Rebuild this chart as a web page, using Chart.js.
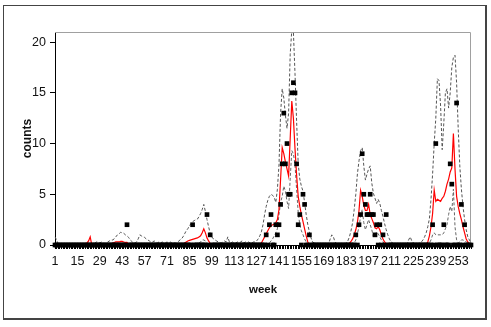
<!DOCTYPE html>
<html><head><meta charset="utf-8">
<script src="https://cdn.jsdelivr.net/npm/chart.js@4/dist/chart.umd.min.js"></script>
<style>
html,body{margin:0;padding:0;background:#fff;}
#wrap{position:relative;width:491px;height:327px;}
#frame{position:absolute;left:3px;top:5px;width:481px;height:312px;border:1.5px solid #444;border-right-width:2px;border-bottom-width:2px;pointer-events:none;}
canvas{position:absolute;left:0;top:0;}
</style></head>
<body><div id="wrap"><canvas id="c" width="491" height="327"></canvas><div id="frame"></div></div>
<script>
const weeks = Array.from({length: 261}, (_, i) => String(i + 1));
const tickLabels = ['1','15','29','43','57','71','85','99','113','127','141','155','169','183','197','211','225','239','253'];
const yTicks = [0, 5, 10, 15, 20];

const observed = [
0,0,0,0,0,0,0,0,0,0,
0,0,0,0,0,0,0,0,0,0,
0,0,0,0,0,0,0,0,0,0,
0,0,0,0,0,0,0,0,0,0,
0,0,0,0,0,2,0,0,0,0,
0,0,0,0,0,0,0,0,0,0,
0,0,0,0,0,0,0,0,0,0,
0,0,0,0,0,0,0,0,0,0,
0,0,0,0,0,0,2,0,0,0,
0,0,0,0,0,3,0,1,0,0,
0,0,0,0,0,0,0,0,0,0,
0,0,0,0,0,0,0,0,0,0,
0,0,0,0,0,0,0,0,0,0,
0,0,1,0,2,3,0,0,2,1,
2,4,8,13,8,10,5,5,15,16,
15,8,2,3,0,5,4,0,0,1,
0,0,0,0,0,0,0,0,0,0,
0,0,0,0,0,0,0,0,0,0,
0,0,0,0,0,0,0,0,1,0,
2,3,9,5,4,3,3,5,3,3,
1,2,0,2,0,1,0,3,0,0,
0,0,0,0,0,0,0,0,0,0,
0,0,0,0,0,0,0,0,0,0,
0,0,0,0,0,0,2,0,10,0,
0,0,0,2,0,0,0,8,6,0,
0,14,0,0,4,0,2,0,0,0,
0];

const meanCounts = [
0,0,0,0,0,0,0,0,0,0,
0,0,0,0,0,0,0.1,0.1,0.1,0.15,
0.2,0.4,0.8,0,0,0,0,0,0,0,
0,0,0,0,0,0.1,0.2,0.25,0.3,0.3,
0.3,0.35,0.35,0.3,0.25,0.25,0.1,0,0,0,
0,0,0,0,0,0,0,0,0,0,
0,0,0,0,0,0,0,0,0,0,
0,0,0,0,0,0,0,0,0,0,
0.1,0.2,0.3,0.4,0.45,0.5,0.55,0.6,0.65,0.7,
0.8,0.9,1.2,1.6,1.2,0.7,0.4,0.15,0.05,0,
0,0,0,0,0,0,0,0,0,0,
0,0,0,0,0,0,0,0,0,0,
0,0,0,0,0,0,0,0,0.05,0.2,
0.5,0.8,1.1,1.4,1.7,1.9,2.0,2.05,2.2,2.5,
3.5,6.5,9.6,9.0,8.2,7.5,6.8,10.5,14.2,12.5,
9.5,6.9,4.8,3.8,3.0,2.3,1.6,0.9,0.3,0.05,
0,0,0,0,0,0,0,0,0,0,
0,0,0,0,0,0,0,0,0,0,
0,0,0,0.05,0.15,0.35,0.6,1.0,1.5,2.2,
3.4,5.4,4.8,3.9,3.4,3.4,4.0,3.0,2.6,2.2,
1.7,1.6,1.8,1.5,1.0,0.6,0.3,0.1,0.05,0,
0,0,0,0,0,0,0,0,0,0,
0,0,0,0,0,0,0,0,0,0,
0,0,0.05,0.3,0.9,1.8,3.1,5.4,4.3,4.5,
4.4,4.3,4.6,4.8,5.3,6.0,6.5,7.2,7.6,11.0,
7.5,4.8,3.8,3.1,2.5,1.8,1.2,0.6,0.3,0.1,
0];

const upperBound = [
0.8,0.5,0.1,0,0,0,0,0,0,0,
0,0,0,0,0,0,0,0,0,0,
0,0,0,0,0.1,0.2,0.3,0.3,0.2,0.3,
0.2,0.1,0.2,0.3,0.4,0.5,0.5,0.6,0.8,1.0,
1.1,1.25,1.2,1.15,1.0,0.9,0.75,0.5,0.35,0.2,
0.2,0.3,0.6,1.0,0.9,0.8,0.75,0.6,0.5,0.4,
0.3,0.3,0.4,0.3,0.2,0.3,0.2,0.3,0.2,0.2,
0.3,0.2,0.3,0.2,0.2,0.2,0.15,0.3,0.5,0.6,
0.8,1.1,1.4,1.6,1.9,2.1,2.3,2.4,2.5,2.55,
2.8,3.1,3.5,4.0,3.3,2.5,1.8,1.15,0.8,0.6,
0.5,0.4,0.3,0.2,0.2,0.3,0.4,0.3,0.8,0.3,
0.2,0.3,0.2,0.2,0.3,0.2,0.3,0.4,0.2,0.3,
0.2,0.3,0.2,0.2,0.3,0.3,0.4,0.6,0.9,1.3,
2.0,3.0,3.8,4.4,4.8,5.0,4.9,4.7,4.2,5.5,
7.9,13.0,15.4,14.5,12.8,11.5,13.0,18.8,21.2,21.0,
16.9,12.2,8.0,6.5,5.8,5.3,4.2,3.0,2.0,1.3,
0.7,0.3,0.2,0.1,0.1,0.1,0.1,0.1,0.1,0.1,
0.1,0.1,0.6,1.0,0.8,0.3,0.1,0.1,0.1,0.1,
0.1,0.1,0.2,0.4,0.8,1.4,2.2,3.5,5.0,7.0,
8.3,9.3,9.6,7.8,6.4,7.0,7.5,7.8,6.1,5.1,
4.6,4.1,4.5,4.1,3.4,2.8,2.1,1.5,1.0,0.6,
0.3,0.2,0.1,0.1,0.1,0.1,0.1,0.1,0.1,0.1,
0.1,0.5,0.8,0.4,0.2,0.1,0.1,0.1,0.2,0.3,
0.5,0.8,1.2,1.8,2.6,4.5,7.0,10.0,12.5,16.4,
16.2,13.7,9.4,12.0,15.0,15.4,13.5,15.0,17.5,18.5,
18.7,16.0,11.5,7.8,5.5,3.8,2.5,1.5,0.8,0.5,
0.2];

const lowerBound = [
0,0,0,0,0,0,0,0,0,0,
0,0,0,0,0,0,0,0,0,0,
0,0,0,0,0,0,0,0,0,0,
0,0,0,0,0,0,0,0,0,0,
0,0,0,0,0,0,0,0,0,0,
0,0,0,0,0,0,0,0,0,0,
0,0,0,0,0,0,0,0,0,0,
0,0,0,0,0,0,0,0,0,0,
0,0,0,0,0,0,0,0,0,0,
0.2,0.3,0.5,0.5,0.4,0.2,0,0,0,0,
0,0,0,0,0,0,0,0,0,0,
0,0,0,0,0,0,0,0,0,0,
0,0,0,0,0,0,0,0,0,0,
0,0,0,0,0.2,0.4,0.6,0.9,1.2,1.6,
3.0,4.2,4.8,5.8,5.3,4.3,3.6,6.5,9.3,9.0,
7.9,5.5,3.2,2.0,1.4,1.0,0.6,0.3,0.1,0,
0,0,0,0,0,0,0,0,0,0,
0,0,0,0,0,0,0,0,0,0,
0,0,0,0,0,0,0,0.2,0.5,1.1,
1.8,2.8,3.5,2.2,1.5,2.0,2.5,2.0,1.5,0.8,
1.0,1.3,1.1,0.8,0.5,0.3,0.15,0,0,0,
0,0,0,0,0,0,0,0,0,0,
0,0,0,0,0,0,0,0,0,0,
0,0,0,0,0.2,0.5,1.0,1.2,1.0,1.0,
1.0,1.0,1.0,1.2,1.6,2.0,3.0,3.8,3.3,5.5,
1.8,0.5,0.2,0.3,0.5,0.5,0.4,0.3,0.2,0.1,
0];

const plotFrame = {
  id: 'plotFrame',
  beforeDatasetsDraw(chart) {
    const {ctx, chartArea: a} = chart;
    ctx.save();
    ctx.strokeStyle = '#a0a0a0';
    ctx.lineWidth = 1;
    ctx.beginPath();
    ctx.moveTo(a.left, a.top + 0.5);
    ctx.lineTo(a.right - 0.5, a.top + 0.5);
    ctx.lineTo(a.right - 0.5, a.bottom);
    ctx.stroke();
    ctx.restore();
  }
};

const tickFont = {family: 'Liberation Sans, Arial, sans-serif', size: 12.5};

new Chart(document.getElementById('c'), {
  type: 'line',
  data: {
    labels: weeks,
    datasets: [
      {label: 'observed', data: observed, showLine: false, pointStyle: 'rect', pointRadius: 3.3,
       pointBackgroundColor: '#000', pointBorderWidth: 0, clip: false, order: 0},
      {label: 'mean', data: meanCounts, borderColor: '#ff0000', borderWidth: 1.2, pointRadius: 0, tension: 0, order: 1},
      {label: 'upper', data: upperBound, borderColor: '#555555', borderWidth: 1, borderDash: [3, 2], pointRadius: 0, tension: 0, order: 2},
      {label: 'lower', data: lowerBound, borderColor: '#666666', borderWidth: 1, borderDash: [3, 2], pointRadius: 0, tension: 0, order: 3}
    ]
  },
  options: {
    responsive: false,
    animation: false,
    devicePixelRatio: 1,
    layout: {padding: {top: 32, right: 20, left: 0, bottom: 0}},
    plugins: {legend: {display: false}, tooltip: {enabled: false}},
    scales: {
      x: {
        type: 'category',
        offset: false,
        grid: {display: true, drawOnChartArea: false, drawTicks: true, tickLength: 4, color: '#000'},
        border: {display: true, color: '#000', width: 1},
        ticks: {
          autoSkip: false, maxRotation: 0, minRotation: 0, padding: 5, color: '#111',
          font: tickFont,
          callback: function(v, i) { const l = weeks[i]; return tickLabels.includes(l) ? l : ''; }
        },
        title: {display: true, text: 'week', color: '#111',
          font: {family: 'Liberation Sans, Arial, sans-serif', size: 11.5, weight: 'bold'},
          padding: {top: 0, bottom: 30}},
        afterFit: s => { s.height = 82; }
      },
      y: {
        min: 0, max: 21,
        grid: {display: true, drawOnChartArea: false, drawTicks: true, tickLength: 5, color: '#000'},
        border: {display: true, color: '#000', width: 1},
        ticks: {
          stepSize: 5, includeBounds: false, padding: 4, color: '#111',
          font: tickFont,
          callback: v => yTicks.includes(v) ? String(v) : ''
        },
        title: {display: true, text: 'counts', color: '#111',
          font: {family: 'Liberation Sans, Arial, sans-serif', size: 12, weight: 'bold'},
          padding: {top: 20, bottom: 0}},
        afterFit: s => { s.width = 55; }
      }
    }
  },
  plugins: [plotFrame]
});
</script>
</body></html>
